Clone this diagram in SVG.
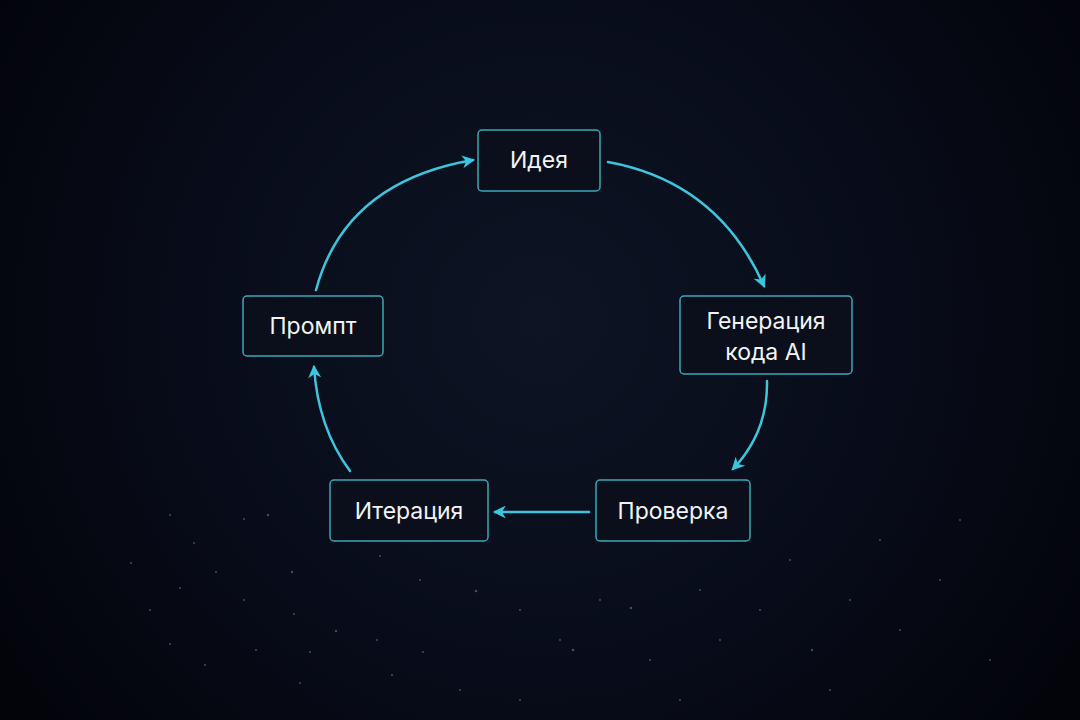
<svg xmlns="http://www.w3.org/2000/svg" width="1080" height="720" viewBox="0 0 1080 720">
  <defs>
    <radialGradient id="bg" cx="540" cy="320" r="640" gradientUnits="userSpaceOnUse">
      <stop offset="0" stop-color="#0e1424"/>
      <stop offset="0.55" stop-color="#080c1a"/>
      <stop offset="1" stop-color="#03040a"/>
    </radialGradient>
    <marker id="arr" viewBox="0 0 12 12" refX="10" refY="6" markerWidth="13" markerHeight="13" markerUnits="userSpaceOnUse" orient="auto">
      <path d="M0,0 L12,6 L0,12 L3.5,6 z" fill="#3cc6de"/>
    </marker>
    <style>
      .box { fill: #0a0f1b; stroke: #3aa9b6; stroke-width: 1.5; }
      .lbl { font-family: "Inter", "Noto Sans", "DejaVu Sans", sans-serif; font-size: 23px; fill: #f2f4f6; text-anchor: middle; }
      .edge { fill: none; stroke: #3cc6de; stroke-width: 2.5; stroke-linecap: round; }
      .star { fill: #a4afc8; }
    </style>
  </defs>
  <rect width="1080" height="720" fill="url(#bg)"/>
  <g id="stars" opacity="0.4">
    <circle class="star" cx="170" cy="515" r="1"/>
    <circle class="star" cx="244" cy="519" r="1"/>
    <circle class="star" cx="268" cy="515" r="1.2"/>
    <circle class="star" cx="194" cy="543" r="1"/>
    <circle class="star" cx="131" cy="563" r="1"/>
    <circle class="star" cx="216" cy="572" r="1"/>
    <circle class="star" cx="292" cy="572" r="1.2"/>
    <circle class="star" cx="244" cy="600" r="1"/>
    <circle class="star" cx="180" cy="588" r="1"/>
    <circle class="star" cx="294" cy="614" r="1"/>
    <circle class="star" cx="336" cy="631" r="1.2"/>
    <circle class="star" cx="256" cy="650" r="1"/>
    <circle class="star" cx="170" cy="644" r="1"/>
    <circle class="star" cx="310" cy="652" r="1"/>
    <circle class="star" cx="377" cy="640" r="1"/>
    <circle class="star" cx="423" cy="652" r="1"/>
    <circle class="star" cx="476" cy="591" r="1.3"/>
    <circle class="star" cx="420" cy="580" r="1"/>
    <circle class="star" cx="380" cy="556" r="1"/>
    <circle class="star" cx="300" cy="683" r="1"/>
    <circle class="star" cx="392" cy="675" r="1"/>
    <circle class="star" cx="460" cy="690" r="1"/>
    <circle class="star" cx="520" cy="610" r="1"/>
    <circle class="star" cx="560" cy="640" r="1"/>
    <circle class="star" cx="573" cy="650" r="1.3"/>
    <circle class="star" cx="600" cy="600" r="1"/>
    <circle class="star" cx="631" cy="608" r="1.3"/>
    <circle class="star" cx="650" cy="660" r="1"/>
    <circle class="star" cx="700" cy="590" r="1"/>
    <circle class="star" cx="720" cy="640" r="1"/>
    <circle class="star" cx="760" cy="610" r="1"/>
    <circle class="star" cx="790" cy="560" r="1"/>
    <circle class="star" cx="812" cy="650" r="1.2"/>
    <circle class="star" cx="850" cy="600" r="1"/>
    <circle class="star" cx="880" cy="540" r="1"/>
    <circle class="star" cx="900" cy="630" r="1"/>
    <circle class="star" cx="940" cy="580" r="1"/>
    <circle class="star" cx="960" cy="520" r="1"/>
    <circle class="star" cx="830" cy="690" r="1"/>
    <circle class="star" cx="680" cy="700" r="1"/>
    <circle class="star" cx="520" cy="700" r="1"/>
    <circle class="star" cx="150" cy="610" r="1"/>
    <circle class="star" cx="205" cy="665" r="1"/>
    <circle class="star" cx="990" cy="660" r="1"/>
  </g>
  <g id="connectors">
    <path class="edge" d="M608,162 Q718,182 764,286" marker-end="url(#arr)"/>
    <path class="edge" d="M767,381 Q768,432 733,469" marker-end="url(#arr)"/>
    <path class="edge" d="M589,512 L495,512" marker-end="url(#arr)"/>
    <path class="edge" d="M350,471 Q318,428 314,367" marker-end="url(#arr)"/>
    <path class="edge" d="M316,290 Q345,182 473,160" marker-end="url(#arr)"/>
  </g>
  <g id="node-idea">
    <rect class="box" x="478" y="130" width="122" height="61" rx="4"/>
    <text class="lbl" x="539" y="168">Идея</text>
  </g>
  <g id="node-gen">
    <rect class="box" x="680" y="296" width="172" height="78" rx="4"/>
    <text class="lbl" x="766" y="329">Генерация</text>
    <text class="lbl" x="766" y="360">кода AI</text>
  </g>
  <g id="node-check">
    <rect class="box" x="596" y="480" width="154" height="61" rx="4"/>
    <text class="lbl" x="673" y="519">Проверка</text>
  </g>
  <g id="node-iter">
    <rect class="box" x="330" y="480" width="158" height="61" rx="4"/>
    <text class="lbl" x="409" y="519">Итерация</text>
  </g>
  <g id="node-prompt">
    <rect class="box" x="243" y="296" width="140" height="60" rx="4"/>
    <text class="lbl" x="313" y="334">Промпт</text>
  </g>
</svg>
